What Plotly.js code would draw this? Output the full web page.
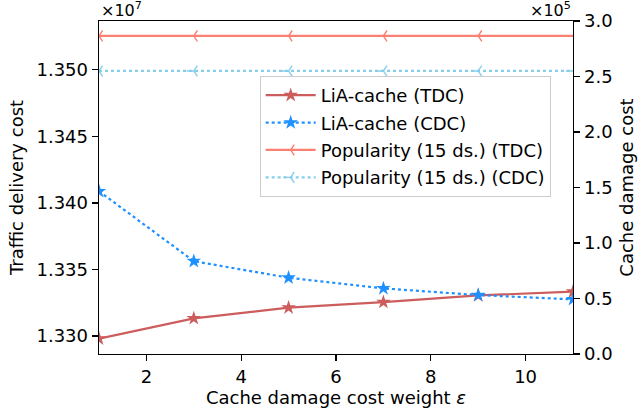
<!DOCTYPE html>
<html>
<head>
<meta charset="utf-8">
<script src="https://cdn.plot.ly/plotly-3.0.1.min.js"></script>
<style>
  html, body { margin: 0; padding: 0; background: #fff; }
  #chart { width: 639px; height: 417px; }
</style>
</head>
<body>
<div id="chart"></div>
<script>
// Cache damage cost weight (epsilon)
const epsilon = [1, 3, 5, 7, 9, 11];

// Traffic delivery cost, in units of 1e7
const liaTDC = [1.32980, 1.33133, 1.33213, 1.33255, 1.33305, 1.33333];
const popTDC = [1.35255, 1.35255, 1.35255, 1.35255, 1.35255, 1.35255];

// Cache damage cost, in units of 1e5
const liaCDC = [1.466, 0.836, 0.687, 0.591, 0.531, 0.492];
const popCDC = [2.55, 2.55, 2.55, 2.55, 2.55, 2.55];

const leftTicks = [1.330, 1.335, 1.340, 1.345, 1.350];
const rightTicks = [0.0, 0.5, 1.0, 1.5, 2.0, 2.5, 3.0];
const xTicks = [2, 4, 6, 8, 10];

const FONT = 'DejaVu Sans, sans-serif';
const FS = 18;

const traces = [
  {
    x: epsilon, y: liaTDC, yaxis: 'y', name: 'LiA-cache (TDC)', legendgroup: 'a',
    mode: 'lines+markers',
    line: { color: '#CD5C5C', width: 2.2 },
    marker: { symbol: 'star', size: 11, color: '#CD5C5C' }
  },
  {
    x: epsilon, y: liaCDC, yaxis: 'y2', name: 'LiA-cache (CDC)', legendgroup: 'b',
    mode: 'lines+markers',
    line: { color: '#1E90FF', width: 2.2, dash: 'dot' },
    marker: { symbol: 'star', size: 11, color: '#1E90FF' }
  },
  {
    x: epsilon, y: popTDC, yaxis: 'y', name: 'Popularity (15 ds.) (TDC)', legendgroup: 'c',
    mode: 'lines+markers',
    line: { color: '#FA8072', width: 2.2 },
    marker: { symbol: 'y-left', size: 9, line: { color: '#FA8072', width: 1.4 } }
  },
  {
    x: epsilon, y: popCDC, yaxis: 'y2', name: 'Popularity (15 ds.) (CDC)', legendgroup: 'd',
    mode: 'lines+markers',
    line: { color: '#87CEEB', width: 2.2, dash: 'dot' },
    marker: { symbol: 'y-left', size: 9, line: { color: '#87CEEB', width: 1.4 } }
  }
];

const axisCommon = {
  showgrid: false, zeroline: false, automargin: false,
  showline: true, linecolor: '#000', linewidth: 1.4,
  ticks: 'outside', ticklen: 6, tickwidth: 1.2, tickcolor: '#000',
  tickfont: { family: FONT, size: FS, color: '#000' }
};

const layout = {
  width: 639, height: 417,
  margin: { l: 99, r: 65.5, t: 21, b: 62.5 },
  paper_bgcolor: '#fff', plot_bgcolor: '#fff',
  font: { family: FONT, size: FS, color: '#000' },
  showlegend: true,
  legend: {
    x: 0.339, y: 0.835, xanchor: 'left', yanchor: 'top',
    bgcolor: 'rgba(255,255,255,0.85)', bordercolor: '#cccccc', borderwidth: 1,
    font: { family: FONT, size: FS, color: '#000' },
    traceorder: 'grouped', tracegroupgap: 1, itemwidth: 50
  },
  xaxis: Object.assign({}, axisCommon, {
    range: [1, 11], tickvals: xTicks, mirror: true,
    title: { text: 'Cache damage cost weight <i>ε</i>', font: { family: FONT, size: FS }, standoff: 4 }
  }),
  yaxis: Object.assign({}, axisCommon, {
    range: [1.32865, 1.35367], tickvals: leftTicks, tickformat: '.3f',
    title: { text: 'Traffic delivery cost', font: { family: FONT, size: FS }, standoff: 8 }
  }),
  yaxis2: Object.assign({}, axisCommon, {
    range: [0, 3.0], tickvals: rightTicks, tickformat: '.1f',
    overlaying: 'y', side: 'right',
    title: { text: 'Cache damage cost', font: { family: FONT, size: FS }, standoff: 8 }
  }),
  annotations: [
    { xref: 'paper', yref: 'paper', x: 0, y: 1, xanchor: 'left', yanchor: 'bottom',
      yshift: -1, showarrow: false, text: '×10<sup>7</sup>', font: { family: FONT, size: 16 } },
    { xref: 'paper', yref: 'paper', x: 1, y: 1, xanchor: 'right', yanchor: 'bottom',
      yshift: -1, showarrow: false, text: '×10<sup>5</sup>', font: { family: FONT, size: 16 } }
  ]
};

Plotly.newPlot('chart', traces, layout, { staticPlot: true, displayModeBar: false });
</script>
</body>
</html>
